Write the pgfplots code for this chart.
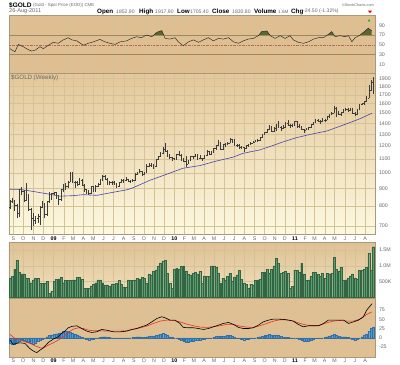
\documentclass[border=0pt]{standalone}
\usepackage{fontspec}
\setmainfont{Liberation Sans}
\usepackage{pgfplots}
\pgfplotsset{compat=1.18}
\usepackage{pgfplotstable}

\definecolor{rsibg}{RGB}{223,191,146}
\definecolor{pricetop}{RGB}{228,199,153}
\definecolor{pricebot}{RGB}{252,249,224}
\definecolor{voltop}{RGB}{224,193,148}
\definecolor{volbot}{RGB}{240,226,190}
\definecolor{macdbg}{RGB}{224,192,146}
\definecolor{gridc}{RGB}{214,194,152}
\definecolor{framec}{RGB}{170,152,125}
\definecolor{lvl}{RGB}{160,135,100}
\definecolor{barc}{RGB}{60,60,60}
\definecolor{mac}{RGB}{70,70,175}
\definecolor{volfill}{RGB}{92,158,112}
\definecolor{voldraw}{RGB}{52,100,68}
\definecolor{histfill}{RGB}{80,155,212}
\definecolor{histdraw}{RGB}{50,112,165}
\definecolor{sigred}{RGB}{232,50,30}
\definecolor{rsigreen}{RGB}{88,104,48}
\definecolor{txtgray}{RGB}{105,105,105}

\pgfdeclareplotmark{otick}{\pgfpathmoveto{\pgfqpoint{-0.95pt}{0pt}}\pgfpathlineto{\pgfqpoint{0pt}{0pt}}\pgfusepathqstroke}
\pgfdeclareplotmark{ctick}{\pgfpathmoveto{\pgfqpoint{0pt}{0pt}}\pgfpathlineto{\pgfqpoint{0.95pt}{0pt}}\pgfusepathqstroke}

\pgfplotstableread{
d O H L C V Hs
-10 795 835 785 829 610 -15
-3 829 845 818 833 660 -16
4 833 835 775 802 890 -16
11 802 810 740 763 1165 -12
18 763 900 745 866 800 -8
25 866 912 865 885 745 -6
32 885 890 822 830 745 -5
39 830 935 826 860 610 -8
46 860 870 775 785 610 -12
53 785 790 681 735 470 -15
60 735 765 700 725 555 -16
67 725 750 710 735 610 -15
74 735 760 715 745 610 -10
81 745 800 705 795 450 -6
88 795 825 790 815 450 -3
95 815 818 740 755 450 -2
102 755 830 750 825 505 3
109 825 880 815 837 135 6
116 837 875 835 872 210 8
123 872 882 860 878 505 10
130 878 880 840 853 580 11
137 853 860 805 837 590 12
144 837 900 830 897 630 14
151 897 930 880 927 470 17
158 927 935 890 913 535 18
165 913 945 905 942 535 18
172 942 1007 940 1002 535 15
179 1002 1005 935 942 555 12
186 942 945 905 940 555 9
193 940 950 915 930 640 7
200 930 965 925 955 640 5
207 955 960 915 922 580 2
214 922 930 880 897 295 -2
221 897 900 865 880 295 -4
228 880 890 865 870 295 -5
235 870 915 868 912 370 -4
242 912 915 880 885 420 -3
249 885 920 882 915 470 -2
256 915 935 908 930 555 0
263 930 960 925 958 555 2
270 958 985 950 980 470 3
277 980 990 955 960 400 3
284 960 965 925 936 400 2
291 936 945 925 937 345 1
298 937 945 920 940 430 0
305 940 945 920 929 430 -1
312 929 935 905 914 450 -2
319 914 940 910 937 535 -2
326 937 958 935 952 430 -1
333 952 960 935 955 325 -1
340 955 972 950 957 325 -1
347 957 960 940 945 555 -1
354 945 955 937 953 535 0
361 953 960 940 955 535 1
368 955 1000 950 995 555 2
375 995 1010 988 1006 610 3
382 1006 1025 1000 1010 580 3
389 1010 1015 985 990 630 2
396 990 1010 990 1004 610 2
403 1004 1062 1000 1050 450 3
410 1050 1070 1040 1052 735 4
417 1052 1070 1045 1057 715 5
424 1057 1060 1025 1045 820 5
431 1045 1100 1040 1095 870 6
438 1095 1120 1090 1118 975 8
445 1118 1150 1115 1145 1080 10
452 1145 1195 1140 1175 1155 12
459 1175 1227 1160 1162 1165 10
466 1162 1165 1120 1120 765 6
473 1120 1140 1105 1110 450 3
480 1110 1112 1085 1105 295 1
487 1105 1110 1090 1097 890 0
494 1097 1140 1095 1138 925 -2
501 1138 1160 1125 1130 890 -4
508 1130 1140 1085 1090 975 -6
515 1090 1110 1075 1083 1000 -8
522 1083 1120 1045 1065 840 -11
529 1065 1095 1060 1092 735 -12
536 1092 1125 1085 1118 715 -10
543 1118 1125 1100 1118 765 -8
550 1118 1140 1115 1133 800 -6
557 1133 1135 1100 1103 745 -5
564 1103 1130 1100 1106 820 -5
571 1106 1110 1085 1106 450 -4
578 1106 1128 1100 1125 680 -3
585 1125 1165 1120 1161 660 -2
592 1161 1162 1135 1137 660 -1
599 1137 1160 1130 1154 1000 0
606 1154 1182 1150 1180 1000 2
613 1180 1210 1165 1208 945 4
620 1208 1250 1200 1228 765 5
627 1228 1230 1165 1176 450 4
634 1176 1220 1170 1212 610 4
641 1212 1225 1195 1218 555 5
648 1218 1235 1210 1228 660 6
655 1228 1265 1225 1256 765 6
662 1256 1262 1225 1256 525 5
669 1256 1262 1205 1208 640 2
676 1208 1215 1195 1210 715 0
683 1210 1215 1180 1188 850 -2
690 1188 1205 1180 1189 580 -4
697 1189 1192 1155 1181 450 -5
704 1181 1210 1175 1204 420 -4
711 1204 1215 1190 1215 295 -3
718 1215 1230 1210 1227 420 -2
725 1227 1242 1225 1236 400 -1
732 1236 1255 1235 1247 535 0
739 1247 1260 1240 1246 555 1
746 1246 1280 1244 1275 580 3
753 1275 1300 1270 1297 800 4
760 1297 1320 1290 1317 800 6
767 1317 1350 1310 1345 890 8
774 1345 1387 1340 1372 765 10
781 1372 1375 1320 1327 890 8
788 1327 1370 1320 1357 1000 7
795 1357 1398 1330 1394 1240 8
802 1394 1424 1360 1366 1080 6
809 1366 1375 1330 1352 765 4
816 1352 1380 1345 1363 800 2
823 1363 1415 1360 1406 820 2
830 1406 1432 1380 1384 765 1
837 1384 1390 1360 1379 295 0
844 1379 1392 1370 1380 345 -1
851 1380 1425 1378 1421 870 0
858 1421 1424 1365 1369 850 -2
865 1369 1395 1360 1360 790 -4
872 1360 1372 1340 1343 1080 -7
879 1343 1345 1308 1340 745 -9
886 1340 1360 1335 1349 535 -10
893 1349 1370 1340 1362 555 -9
900 1362 1390 1355 1388 660 -7
907 1388 1415 1380 1410 790 -4
914 1410 1438 1405 1428 790 -2
921 1428 1445 1420 1421 735 -1
928 1421 1428 1395 1418 660 -1
935 1418 1450 1412 1428 765 0
942 1428 1440 1415 1430 610 1
949 1430 1476 1428 1474 765 3
956 1474 1490 1450 1486 745 5
963 1486 1508 1480 1503 765 7
970 1503 1575 1500 1556 1260 10
977 1556 1560 1462 1492 890 6
984 1492 1520 1480 1493 820 4
991 1493 1515 1475 1509 945 3
998 1509 1540 1500 1536 555 3
1005 1536 1550 1525 1542 555 3
1012 1542 1550 1515 1530 610 2
1019 1530 1555 1520 1539 660 0
1026 1539 1555 1495 1502 745 -3
1033 1502 1510 1478 1486 610 -5
1040 1486 1545 1480 1542 580 -3
1047 1542 1595 1540 1594 850 0
1054 1594 1610 1580 1602 850 3
1061 1602 1630 1590 1628 890 6
1068 1628 1681 1620 1664 945 10
1075 1664 1815 1660 1747 1400 17
1082 1747 1877 1740 1852 870 25
1089 1852.9 1917.9 1705.4 1830.8 1600 28
}\price

\pgfplotstableread{
d m
-10 896
20 895
60 883
111 866
141 855
180 858
211 864
253 860
302 878
344 893
362 905
413 952
465 993
513 1033
565 1052
615 1085
665 1114
695 1143
746 1170
780 1200
816 1235
858 1272
900 1300
949 1330
1010 1398
1049 1445
1085 1500
}\ma

\pgfplotstableread{
d r
-10 42
5 35.5
15 50.7
30 46
40 42
55 37
66 39
81 46
91 42
106 49
121 55
136 53
151 60
166 64.5
177 60
192 58
212 49
227 53
242 56
262 61
277 56
292 53
308 50.7
323 56
343 58
358 63
373 66.5
388 64.5
403 70
419 66.5
425 70
434 75.5
449 79
455 70
459 63
474 61.7
489 64.5
499 56
514 48
530 56
545 60
560 55
575 60
590 64.5
605 58
620 63
635 61.7
651 64.5
666 56
681 53
696 58
711 61.7
726 63
741 68.6
743 70
751 77
767 78.3
776 70
777 68.6
792 63
807 68.6
822 63
837 68.6
847 60
862 55
877 53
893 56
908 61.7
923 64.5
938 64.5
950 70
953 71.4
963 77
970 70
973 66.5
988 68.6
1004 66.5
1014 68.6
1024 56
1034 64.5
1049 70
1064 78.3
1074 84
1084 78.3
}\rsi

\pgfplotstableread{
d m
-10 -6
0 -18
10 -15
20 -13.5
35 -15
50 -29
61 -36
71 -40
81 -33
91 -27
106 -12.6
121 -3.6
136 2.7
146 11.7
156 18
166 27
177 30.6
192 32.4
207 25
222 18
237 14.4
252 16
267 22.5
282 20.7
303 16
323 16
343 18
358 22.5
373 25
388 29.7
403 34
419 43
434 52
449 56.7
459 54
474 47.7
489 47.7
504 38.7
514 28
530 27
545 27
560 25
575 22.5
590 25
605 29.7
620 34
635 38.7
651 41.4
666 36
681 28
696 25
711 25
726 27
741 34
756 43
772 47.7
787 50.4
802 50.4
817 49.5
832 47.7
847 45
862 36
877 29.7
893 32.4
908 32.4
923 32.4
938 38.7
953 47.7
968 47.7
983 47.7
999 47.7
1014 38.7
1029 43
1044 47.7
1059 56.7
1069 74.7
1085 92
}\macd

\pgfplotstableread{
d s
-10 9
5 -1.8
20 -6.3
35 -10.8
50 -15
66 -21.6
81 -27
91 -27
106 -19.8
121 -13.5
136 -6.3
151 2.7
166 14.4
182 23.4
197 27
212 25
227 20.7
242 19
262 19
282 18
303 18
323 18
343 19
363 22.5
383 27
403 31.5
424 38.7
444 45
464 47.7
484 46.8
504 43
524 37
545 32.4
565 28.8
585 28
605 29.7
625 32.4
646 36
666 36
686 31.5
706 28.8
726 28
746 32.4
767 38.7
787 45
807 48.6
827 48.6
847 45
867 38.7
888 34
908 32.4
928 34
948 40.5
968 45
988 46.8
1009 45
1029 45
1049 50.4
1069 63
1085 70
}\sig

\pgfplotsset{
  panel/.style={
    scale only axis, width=366pt, xmin=-13, xmax=1094,
    anchor=north west,
    xtick={0,30,61,91,122,153,181,212,242,273,303,334,365,395,426,456,487,518,546,577,607,638,668,699,730,760,791,821,852,883,911,942,972,1003,1033,1064},
    xticklabels={},
    major tick length=0pt,
    axis line style={draw=framec, line width=0.4pt},
    xmajorgrids,
    major grid style={draw=gridc, line width=0.35pt},
    yticklabel pos=right,
    ticklabel style={font=\fontsize{5.3}{6}\selectfont, text=txtgray},
    yticklabel style={inner sep=0pt, xshift=3.8pt},
    xticklabel style={inner sep=0pt, yshift=-2.3pt},
  },
  months/.style={xticklabels={S,O,N,D,\textbf{\color{black}09},F,M,A,M,J,J,A,S,O,N,D,\textbf{\color{black}10},F,M,A,M,J,J,A,S,O,N,D,\textbf{\color{black}11},F,M,A,M,J,J,A}},
}

\begin{document}
\begin{tikzpicture}
\fill[white] (0pt,0pt) rectangle (400pt,-365pt);
\path[use as bounding box] (0pt,0pt) rectangle (400pt,-365pt);

% header
\node[anchor=west, inner sep=0pt] at (9pt,-5pt) {\fontsize{6.5}{7}\selectfont\bfseries \$GOLD};
\node[anchor=west, inner sep=0pt] at (33pt,-5pt) {\fontsize{4.4}{5}\selectfont\color{txtgray}(Gold - Spot Price (EOD)) CME};
\node[anchor=east, inner sep=0pt] at (374pt,-5pt) {\fontsize{3.8}{5}\selectfont\color{txtgray}©StockCharts.com};
\node[anchor=west, inner sep=0pt] at (9pt,-11.5pt) {\fontsize{5.6}{6}\selectfont\color{txtgray}26-Aug-2011};
\node[anchor=west, inner sep=0pt] at (97pt,-11.5pt) {\fontsize{6.3}{7}\selectfont\bfseries Open};
\node[anchor=west, inner sep=0pt] at (116pt,-11.5pt) {\fontsize{5.1}{6}\selectfont\color{txtgray}1852.90};
\node[anchor=west, inner sep=0pt] at (139pt,-11.5pt) {\fontsize{6.3}{7}\selectfont\bfseries High};
\node[anchor=west, inner sep=0pt] at (155pt,-11.5pt) {\fontsize{5.1}{6}\selectfont\color{txtgray}1917.90};
\node[anchor=west, inner sep=0pt] at (177pt,-11.5pt) {\fontsize{6.3}{7}\selectfont\bfseries Low};
\node[anchor=west, inner sep=0pt] at (190pt,-11.5pt) {\fontsize{5.1}{6}\selectfont\color{txtgray}1705.40};
\node[anchor=west, inner sep=0pt] at (212pt,-11.5pt) {\fontsize{6.3}{7}\selectfont\bfseries Close};
\node[anchor=west, inner sep=0pt] at (232pt,-11.5pt) {\fontsize{5.1}{6}\selectfont\color{txtgray}1830.80};
\node[anchor=west, inner sep=0pt] at (254pt,-11.5pt) {\fontsize{6.3}{7}\selectfont\bfseries Volume};
\node[anchor=west, inner sep=0pt] at (278pt,-11.5pt) {\fontsize{4.6}{6}\selectfont\color{txtgray}1.6M};
\node[anchor=west, inner sep=0pt] at (291pt,-11.5pt) {\fontsize{6.3}{7}\selectfont\bfseries Chg};
\node[anchor=west, inner sep=0pt] at (303pt,-11.5pt) {\fontsize{5.1}{6}\selectfont\color{txtgray}-24.50 (-1.32\%)};
\fill[red!85!black] (368pt,-10.6pt) -- (372pt,-10.6pt) -- (370pt,-13.2pt) -- cycle;

% RSI panel
\begin{axis}[panel, at={(9pt,-15pt)}, height=58.3pt, ymin=-8.5, ymax=111,
  ytick={10,30,50,70,90}, yticklabels={10,30,50,70,90},
  axis background/.style={fill=rsibg}]
\addplot[fill=rsigreen, draw=none] coordinates {(425,70) (434,75.5) (449,79) (455,70)} -- cycle;
\addplot[fill=rsigreen, draw=none] coordinates {(743,70) (751,77) (767,78.3) (776,70)} -- cycle;
\addplot[fill=rsigreen, draw=none] coordinates {(950,70) (953,71.4) (963,77) (970,70)} -- cycle;
\addplot[fill=rsigreen, draw=none] coordinates {(1049,70) (1064,78.3) (1074,84) (1084,78.3) (1084,70)} -- cycle;
\addplot[lvl, line width=0.5pt] coordinates {(-13,70) (1094,70)};
\addplot[lvl, line width=0.5pt] coordinates {(-13,30) (1094,30)};
\addplot[lvl!80!red, dash pattern=on 2pt off 1pt on 0.5pt off 1pt, line width=0.4pt] coordinates {(-13,50) (1094,50)};
\addplot[black!85, line width=0.45pt] table[x=d,y=r] {\rsi};
\addplot[only marks, mark=*, mark size=0.9pt, color=green!75!black] coordinates {(1076,99.5)};
\end{axis}

% Price panel
\begin{axis}[panel, months, at={(9pt,-73.3pt)}, height=160.7pt, ymode=log, ymin=662, ymax=1965,
  ytick={700,800,900,1000,1100,1200,1300,1400,1500,1600,1700,1800,1900},
  yticklabels={700,800,900,1000,1100,1200,1300,1400,1500,1600,1700,1800,1900},
  ymajorgrids,
  axis background/.style={top color=pricetop, bottom color=pricebot}]
\addplot[mac, line width=0.6pt] table[x=d,y=m] {\ma};
\addplot[barc, only marks, mark=ctick, mark options={line width=0.4pt},
  error bars/.cd, y dir=both, y explicit, error mark=none,
  error bar style={line width=0.42pt, barc}]
  table[x=d, y=C, y error plus expr=\thisrow{H}-\thisrow{C}, y error minus expr=\thisrow{C}-\thisrow{L}] {\price};
\addplot[barc, only marks, mark=otick, mark options={line width=0.4pt}] table[x=d,y=O] {\price};
\end{axis}
\node[anchor=west, inner sep=0pt] at (11pt,-77.8pt) {\fontsize{6.2}{7}\selectfont\color{txtgray}\$GOLD (Weekly)};

% Volume panel
\begin{axis}[panel, at={(9pt,-242.3pt)}, height=56pt, ymin=-25, ymax=1740,
  ytick={500,1000,1500}, yticklabels={500K,1.0M,1.5M}, ymajorgrids,
  axis background/.style={top color=voltop, bottom color=volbot}]
\addplot[ybar, bar width=5.8, fill=volfill, draw=voldraw, line width=0.18pt] table[x=d,y=V] {\price};
\end{axis}

% MACD panel
\begin{axis}[panel, months, at={(9pt,-298.3pt)}, height=58.4pt, ymin=-51, ymax=106.5,
  ytick={-25,0,25,50,75}, yticklabels={-25,0,25,50,75}, ymajorgrids,
  axis background/.style={fill=macdbg}]
\addplot[ybar, bar width=5.8, fill=histfill, draw=histdraw, line width=0.18pt] table[x=d,y=Hs] {\price};
\addplot[sigred, line width=0.6pt] table[x=d,y=s] {\sig};
\addplot[black, line width=0.6pt] table[x=d,y=m] {\macd};
\end{axis}
\end{tikzpicture}
\end{document}
